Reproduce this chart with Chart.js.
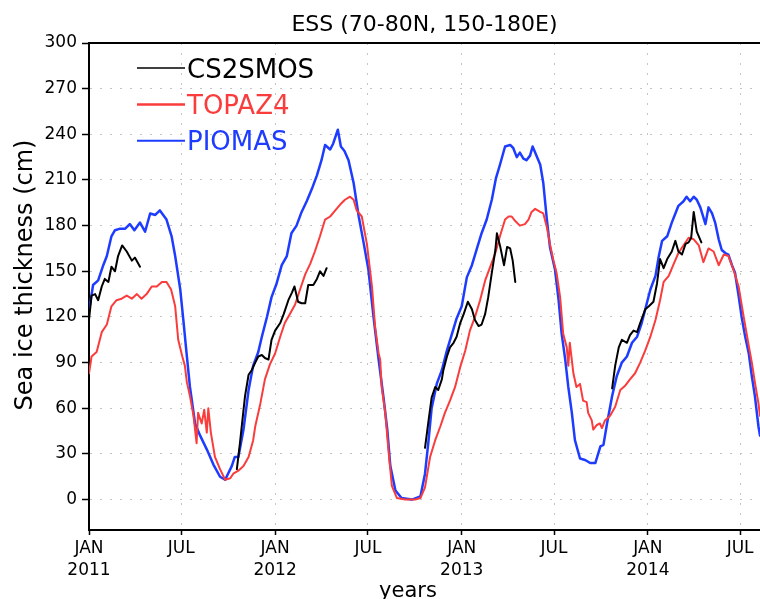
<!DOCTYPE html>
<html>
<head>
<meta charset="utf-8">
<title>ESS (70-80N, 150-180E)</title>
<script src="https://cdn.jsdelivr.net/npm/chart.js@4.4.1/dist/chart.umd.min.js"></script>
<style>
  html, body { margin: 0; padding: 0; background: #fff; overflow: hidden; }
  #wrap { position: relative; width: 760px; height: 599px; }
</style>
</head>
<body>
<div id="wrap"><canvas id="chart"></canvas></div>
<script>
// Texts
const TITLE = 'ESS (70-80N, 150-180E)';
const Y_TITLE = 'Sea ice thickness (cm)';
const X_TITLE = 'years';

// Time axis: days counted from 1 January 2011
const TICK_DAYS = [0, 181, 365, 547, 731, 912, 1096, 1277];
const TICK_LABELS = [['JAN', '2011'], ['JUL'], ['JAN', '2012'], ['JUL'],
                     ['JAN', '2013'], ['JUL'], ['JAN', '2014'], ['JUL']];
const Y_TICKS = [0, 30, 60, 90, 120, 150, 180, 210, 240, 270, 300];

// CS2SMOS observations (winter seasons only, null breaks the line)
const CS2SMOS_DAYS = [
  0, 5, 12, 18, 25, 31, 38, 44, 51, 57, 65, 74, 84, 90, 100,
  200,
  290, 296, 306, 313, 319, 326, 332, 339, 345, 352, 358, 365, 375, 382, 391, 398, 403,
  410, 417, 424, 430, 440, 447, 453, 460, 466,
  560,
  659, 666, 672, 679, 685, 692, 695, 702, 708, 715, 721, 728, 735, 743, 751, 757, 764,
  770, 777, 783, 790, 797, 800, 806, 814, 820, 826, 831, 836,
  930,
  1026, 1032, 1039, 1045, 1055, 1061, 1068, 1075, 1081, 1091, 1098, 1107, 1114, 1120,
  1127, 1134, 1143, 1150, 1156, 1163, 1170, 1176, 1181, 1186, 1192, 1201
];
const CS2SMOS_CM = [
  118, 134, 135, 131, 140, 145, 143, 153, 150, 160, 167, 163, 157, 159, 153,
  null,
  20, 37, 68, 82, 85, 90, 94, 95, 93, 92, 105, 111, 116, 122, 131, 136, 140,
  130, 129, 129, 141, 141, 145, 150, 147, 152,
  null,
  34, 52, 67, 74, 72, 79, 85, 94, 100, 103, 107, 116, 122, 130, 125, 118, 114,
  115, 122, 133, 149, 164, 175, 167, 154, 166, 165, 157, 143,
  null,
  73, 88, 100, 105, 103, 108, 111, 110, 116, 125, 127, 130, 142, 158,
  152, 158, 163, 170, 163, 161, 168, 169, 172, 189, 176, 169
];

// TOPAZ4 model
const TOPAZ4_DAYS = [
  0, 5, 15, 25, 35, 44, 54, 64, 74, 84,
  94, 103, 113, 123, 133, 143, 152, 161, 169, 175,
  183, 188, 192, 198, 205, 211, 214, 221, 226, 231,
  234, 239, 247, 257, 267, 277, 283, 293, 303, 313,
  322, 326, 336, 345, 355, 365, 375, 384, 394, 404,
  414, 424, 434, 443, 453, 463, 473, 483, 493, 502,
  512, 519, 525, 535, 545, 555, 561, 568, 571, 574,
  581, 588, 594, 604, 620, 640, 650, 659, 669, 679,
  689, 698, 708, 718, 728, 738, 747, 757, 767, 777,
  787, 797, 806, 816, 823, 829, 836, 845, 855, 862,
  868, 875, 885, 891, 898, 904, 911, 917, 924, 930,
  937, 940, 943, 950, 956, 963, 969, 976, 979, 986,
  989, 996, 1002, 1006, 1012, 1022, 1032, 1042, 1052, 1061,
  1071, 1081, 1091, 1101, 1111, 1120, 1127, 1137, 1147, 1156,
  1166, 1176, 1186, 1196, 1205, 1215, 1225, 1235, 1245, 1254,
  1264, 1274, 1284, 1294, 1300, 1306, 1313, 1316
];
const TOPAZ4_CM = [
  83, 94, 97, 110, 115, 127, 131, 132, 134, 132,
  135, 132, 135, 140, 140, 143, 143, 138, 127, 105,
  94, 88, 77, 68, 55, 37, 57, 50, 59, 44,
  60, 44, 28, 20, 13, 14, 17, 19, 22, 28,
  39, 48, 63, 79, 89, 96, 107, 116, 122, 128,
  138, 148, 155, 163, 173, 184, 186, 190, 194, 197,
  199, 197, 190, 186, 168, 140, 114, 96, 92, 74,
  57, 30, 9, 1, 0, 0, 1, 8, 28, 39,
  48, 57, 65, 74, 87, 98, 111, 120, 131, 144,
  153, 162, 173, 184, 186, 186, 183, 180, 181, 184,
  189, 191, 189, 188, 179, 168, 157, 149, 133, 109,
  100, 88, 103, 83, 74, 76, 65, 64, 57, 52,
  46, 49, 50, 47, 52, 55, 61, 72, 75, 79,
  83, 90, 98, 107, 118, 131, 143, 147, 155, 162,
  167, 172, 171, 167, 156, 165, 163, 154, 161, 160,
  151, 140, 120, 101, 90, 77, 63, 55
];

// PIOMAS model
const PIOMAS_DAYS = [
  0, 8, 18, 28, 35, 44, 51, 61, 71, 80,
  89, 100, 110, 120, 130, 139, 152, 162, 169, 179,
  185, 192, 198, 208, 218, 231, 244, 257, 267, 280,
  286, 293, 303, 313, 322, 332, 339, 349, 358, 368,
  378, 388, 397, 407, 417, 427, 437, 447, 456, 463,
  473, 479, 488, 494, 501, 509, 519, 529, 539, 548,
  558, 568, 578, 585, 591, 601, 613, 633, 650, 659,
  666, 672, 682, 692, 702, 712, 721, 731, 741, 751,
  760, 770, 780, 790, 798, 806, 816, 826, 832, 839,
  845, 852, 858, 865, 870, 875, 885, 891, 898, 904,
  914, 921, 927, 934, 940, 947, 953, 963, 973, 983,
  993, 1003, 1009, 1016, 1026, 1035, 1045, 1055, 1065, 1075,
  1084, 1094, 1101, 1111, 1117, 1124, 1134, 1143, 1150, 1156,
  1166, 1172, 1179, 1186, 1192, 1199, 1209, 1215, 1222, 1228,
  1235, 1241, 1248, 1254, 1261, 1267, 1274, 1280, 1287, 1294,
  1300, 1306, 1313, 1316
];
const PIOMAS_CM = [
  124, 141, 144, 154, 160, 173, 177, 178, 178, 181,
  177, 182, 176, 188, 187, 190, 184, 173, 160, 138,
  118, 94, 74, 50, 42, 33, 23, 15, 13, 22,
  28, 28, 46, 72, 88, 97, 107, 120, 133, 142,
  154, 160, 175, 180, 189, 196, 204, 213, 223, 233,
  230, 234, 243, 232, 229, 223, 208, 186, 168, 151,
  120, 92, 66, 46, 22, 6, 1, 0, 2, 17,
  39, 60, 76, 85, 98, 109, 119, 127, 146, 154,
  164, 175, 184, 197, 211, 220, 232, 233, 231, 225,
  228, 224, 223, 226, 232, 228, 220, 208, 184, 166,
  151, 131, 109, 92, 74, 57, 39, 27, 26, 24,
  24, 35, 36, 50, 68, 81, 90, 94, 103, 107,
  116, 129, 138, 147, 159, 170, 173, 182, 188, 193,
  196, 199, 196, 199, 197, 192, 181, 192, 188, 182,
  171, 164, 162, 161, 154, 149, 134, 120, 107, 96,
  81, 68, 48, 42
];

const FONT = 'DejaVu Sans';
const pairs = (days, vals) => days.map((d, i) => ({ x: d, y: vals[i] }));

// Closing line along the top of the plot frame
const frameTop = {
  id: 'frameTop',
  afterDraw(chart) {
    const { ctx, chartArea: a } = chart;
    ctx.save();
    ctx.strokeStyle = '#000';
    ctx.lineWidth = 2;
    ctx.beginPath();
    ctx.moveTo(a.left - 1, a.top);
    ctx.lineTo(a.right, a.top);
    ctx.stroke();
    ctx.restore();
  }
};

// Key in the upper-left corner of the plot, text in the series colour
const seriesKey = {
  id: 'seriesKey',
  afterDatasetsDraw(chart) {
    const { ctx, chartArea: a } = chart;
    chart.data.datasets.forEach((ds, i) => {
      const y = a.top + 25 + i * 36.4;
      ctx.save();
      ctx.strokeStyle = ds.borderColor;
      ctx.lineWidth = ds.keyWidth;
      ctx.beginPath();
      ctx.moveTo(a.left + 48, y);
      ctx.lineTo(a.left + 96, y);
      ctx.stroke();
      ctx.fillStyle = ds.borderColor;
      ctx.font = '26px "' + FONT + '"';
      ctx.textAlign = 'left';
      ctx.textBaseline = 'alphabetic';
      ctx.fillText(ds.label, a.left + 98, y + 9.5);
      ctx.restore();
    });
  }
};

// Axis captions
const captions = {
  id: 'captions',
  afterDraw(chart) {
    const { ctx, chartArea: a } = chart;
    ctx.save();
    ctx.fillStyle = '#000';
    ctx.font = '24px "' + FONT + '"';
    ctx.textAlign = 'center';
    ctx.textBaseline = 'middle';
    ctx.translate(a.left - 63.5, (a.top + a.bottom) / 2 - 11.5);
    ctx.rotate(-Math.PI / 2);
    ctx.fillText(Y_TITLE, 0, 0);
    ctx.restore();

    ctx.save();
    ctx.fillStyle = '#000';
    ctx.font = '21px "' + FONT + '"';
    ctx.textAlign = 'center';
    ctx.textBaseline = 'alphabetic';
    ctx.fillText(X_TITLE, (a.left + a.right) / 2 - 16.5, a.bottom + 66.7);
    ctx.restore();
  }
};

const tickFont = { family: FONT, size: 17, lineHeight: 22 / 17 };

new Chart(document.getElementById('chart'), {
  type: 'line',
  data: {
    datasets: [
      { label: 'CS2SMOS', data: pairs(CS2SMOS_DAYS, CS2SMOS_CM),
        borderColor: '#000000', borderWidth: 2, keyWidth: 1.5 },
      { label: 'TOPAZ4', data: pairs(TOPAZ4_DAYS, TOPAZ4_CM),
        borderColor: 'rgb(250,60,60)', borderWidth: 2, keyWidth: 2.5 },
      { label: 'PIOMAS', data: pairs(PIOMAS_DAYS, PIOMAS_CM),
        borderColor: 'rgb(30,60,255)', borderWidth: 2.5, keyWidth: 2 }
    ]
  },
  options: {
    responsive: true,
    maintainAspectRatio: false,
    animation: false,
    spanGaps: false,
    layout: { padding: 0 },
    elements: {
      point: { radius: 0, hoverRadius: 0 },
      line: { tension: 0, fill: false, borderJoinStyle: 'round', borderCapStyle: 'round' }
    },
    plugins: {
      legend: { display: false },
      tooltip: { enabled: false },
      title: {
        display: true,
        text: TITLE,
        fullSize: false,
        color: '#000',
        font: { family: FONT, size: 22, weight: 'normal', lineHeight: 1.2 },
        padding: { top: 12.5, bottom: 4.1 }
      }
    },
    scales: {
      x: {
        type: 'linear',
        min: 0,
        max: 1316,
        afterBuildTicks: s => { s.ticks = TICK_DAYS.map(v => ({ value: v })); },
        afterFit: s => { s.height = 69; },
        ticks: {
          autoSkip: false, maxRotation: 0, minRotation: 0, padding: 3,
          color: '#000', font: tickFont,
          callback: v => TICK_LABELS[TICK_DAYS.indexOf(v)]
        },
        grid: { color: '#c4c4c4', lineWidth: 1, tickLength: 5, tickColor: '#000', tickWidth: 1.5 },
        border: { display: true, color: '#000', width: 2, dash: [2, 8] }
      },
      y: {
        min: -20,
        max: 300,
        afterBuildTicks: s => { s.ticks = Y_TICKS.map(v => ({ value: v })); },
        afterFit: s => { s.width = 89; },
        ticks: { padding: 5, color: '#000', font: tickFont },
        grid: { color: '#c4c4c4', lineWidth: 1, tickLength: 7, tickColor: '#000', tickWidth: 1.5 },
        border: { display: true, color: '#000', width: 2, dash: [2, 8] }
      }
    }
  },
  plugins: [frameTop, seriesKey, captions]
});
</script>
</body>
</html>
